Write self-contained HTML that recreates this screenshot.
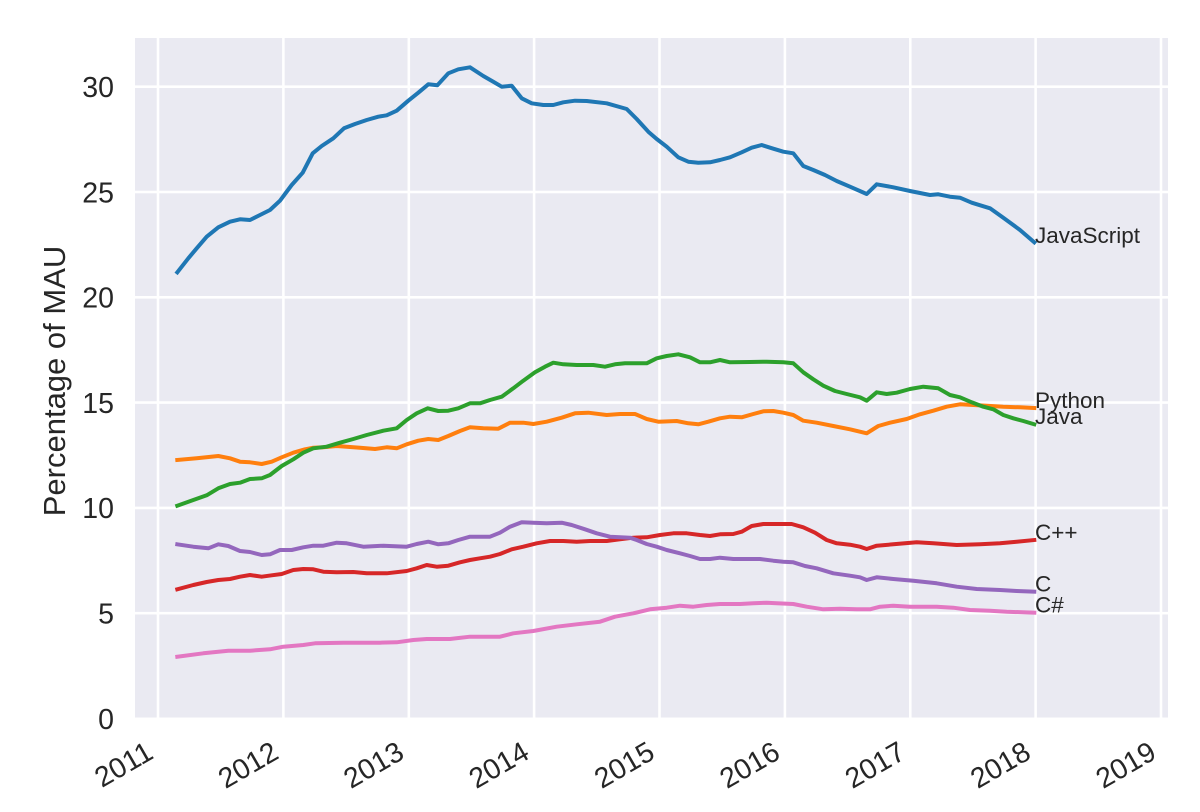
<!DOCTYPE html>
<html><head><meta charset="utf-8"><style>
html,body{margin:0;padding:0;background:#fff;}
svg{display:block;}
text{font-family:"Liberation Sans",Arial,sans-serif;fill:#262626;}
</style></head><body>
<svg width="1200" height="812" viewBox="0 0 1200 812" xmlns="http://www.w3.org/2000/svg">
<defs><clipPath id="c"><rect x="135" y="38" width="1033" height="679.5"/></clipPath></defs>
<rect x="135" y="38" width="1033" height="679.5" fill="#EAEAF2"/>
<g stroke="#fff" stroke-width="2.6" clip-path="url(#c)">
<line x1="158" y1="38" x2="158" y2="718"/>
<line x1="283.4" y1="38" x2="283.4" y2="718"/>
<line x1="408.8" y1="38" x2="408.8" y2="718"/>
<line x1="534.1" y1="38" x2="534.1" y2="718"/>
<line x1="659.5" y1="38" x2="659.5" y2="718"/>
<line x1="784.9" y1="38" x2="784.9" y2="718"/>
<line x1="910.3" y1="38" x2="910.3" y2="718"/>
<line x1="1035.6" y1="38" x2="1035.6" y2="718"/>
<line x1="1161" y1="38" x2="1161" y2="718"/>
<line x1="135" y1="86.7" x2="1168" y2="86.7"/>
<line x1="135" y1="192" x2="1168" y2="192"/>
<line x1="135" y1="297.3" x2="1168" y2="297.3"/>
<line x1="135" y1="402.6" x2="1168" y2="402.6"/>
<line x1="135" y1="507.9" x2="1168" y2="507.9"/>
<line x1="135" y1="613.2" x2="1168" y2="613.2"/>
</g>
<g fill="none" stroke-width="4" stroke-linejoin="round" stroke-linecap="square" clip-path="url(#c)">
<polyline stroke="#1f77b4" points="177.3,272.3 188.3,258.3 196.7,248.3 206.7,236.7 218.3,227.3 230,221.7 240,219.3 250,220 260,215 270,210 280,200.7 291.7,185 302.7,172.7 312.7,153.3 321.7,146 333.3,138.3 344,128.3 355,124 366.7,120 378.3,116.7 386.7,115.3 396.7,110.7 408.3,100.7 418.3,92.7 428.3,84.3 437.3,85.3 448.3,73.3 458.3,69.3 470,67.3 483.3,76 493.3,81.7 501.7,86.7 511.7,85.7 521.7,98.3 531.7,103.3 543.3,105 553.3,105 563.3,102.3 575,100.7 586.7,101 606.7,103.3 626.7,109 636.7,119 648.3,131.7 656.7,139 666.7,146.7 678.3,157.3 688.3,161.7 698.3,162.7 710,162.3 720,160 730,157.3 741.7,152.3 751.7,147.7 761.7,145 773.3,148.7 783.3,151.7 793.3,153.3 803.3,166 813.3,170 825,175 836.7,181 850,186.7 866.7,194 876.7,184.3 893.3,187.3 910,191 930,195 938.3,194.3 950,196.7 960,197.7 971.7,202.7 990,208.3 1003.3,217.7 1020,230 1034.3,242.3"/>
<polyline stroke="#ff7f0e" points="177.3,460 196.7,458.3 218.3,456 230,458.3 240,461.7 250,462.3 261.7,464 271.7,461.7 281.7,457.3 293.3,452.7 305,449.3 313.3,447.7 323.3,447.3 336.7,446 346.7,446.7 360,447.7 375,449 386.7,447.3 396.7,448.3 406.7,444.3 418.3,440.7 428.3,439 438.3,440 448.3,436 460,431 470,427.3 483.3,428.3 498.3,428.7 510,422.7 523.3,422.7 533.3,424 546.7,421.7 561.7,417.7 575,413.3 588.3,412.7 606.7,415 620,414 635,414 646.7,419 658.3,421.7 676.7,421 688.3,423.3 698.3,424.3 708.3,421.7 720,418.3 730,416.7 741.7,417.3 753.3,414 763.3,411.3 773.3,411 783.3,412.7 793.3,415 803.3,420.7 816.7,422.7 833.3,426 850,429.3 866.7,433.3 878.3,426 890,422.7 906.7,419 920,414.3 933.3,410.7 946.7,406.7 960,404.3 973.3,405 986.7,405.7 1003.3,406.7 1020,407.3 1034.3,408"/>
<polyline stroke="#2ca02c" points="177.3,505.7 193.3,500 206.7,495.3 218.3,488.3 230,484 240,482.7 250,479 261.7,478.3 270,475 281.7,466 293.3,459.3 303.3,452.7 313.3,448.3 326.7,446.7 340,442.7 353.3,439 366.7,435 383.3,430.7 396.7,428.3 406.7,420 416.7,413.3 427.7,408.3 438.3,411 448.3,410.7 458.3,408.3 470,403.3 480,403.3 490,400 501.7,396.7 513.3,388.3 523.3,380.7 535,372.3 545,366.7 553.3,362.7 563.3,364.3 576.7,365 593.3,365 605,366.7 615,364.3 625,363.3 646.7,363.3 656.7,358.3 666.7,356 678.3,354.3 690,357.3 700,362.3 710,362.3 720,360 730,362.3 750,362 766.7,361.7 783.3,362.3 793.3,363.3 803.3,372.3 813.3,379.3 823.3,385.7 835,391 846.7,394 860,397.3 866.7,400.7 876.7,392.3 886.7,394 896.7,392.7 910,389 923.3,386.7 938.3,388.3 950,395 960,397.3 971.7,402.3 983.3,406.7 993.3,409.3 1003.3,415 1013.3,418.3 1023.3,421 1034.3,424.3"/>
<polyline stroke="#d62728" points="177.3,589.3 193.3,585 206.7,582 218.3,580 230,579 240,576.7 250,575 261.7,576.7 271.7,575.3 281.7,574 293.3,570 303.3,569 313.3,569.3 323.3,571.7 336.7,572.3 353.3,572 366.7,573.3 386.7,573.3 406.7,571 416.7,568.3 426.7,565 436.7,566.7 448.3,565.7 460,562.3 470,560 480,558.3 490,556.7 500,554 511.7,549.3 523.3,546.7 536.7,543.3 550,541 563.3,541 576.7,541.7 590,541 606.7,541 620,539.3 633.3,537.7 646.7,537.3 660,535 673.3,533.3 686.7,533.3 700,535 710,536 720,534.3 733.3,534 741.7,531.7 751.7,526 763.3,524 776.7,524 791.7,524 803.3,527.3 815,532.7 826.7,540 836.7,543.3 850,544.7 860,546.7 866.7,549 876.7,545.7 893.3,544.3 916.7,542.3 933.3,543.3 956.7,545 980,544.3 1000,543.3 1016.7,541.7 1034.3,540"/>
<polyline stroke="#9467bd" points="177.3,544.3 193.3,546.7 208.3,548.3 218.3,544.3 228.3,546 240,551 250,552 261.7,555 270,554.3 280,550 291.7,550 303.3,547.3 313.3,545.7 323.3,545.7 336.7,542.7 346.7,543.3 363.3,546.7 383.3,545.7 406.7,546.7 416.7,544 428.3,541.7 438.3,544.3 448.3,543.3 458.3,540 470,536.7 490,536.7 500,532.7 510,526.7 521.7,522.3 533.3,522.7 546.7,523.3 561.7,522.7 571.7,525 585,529.3 596.7,533.3 610,536.7 630,537.7 636.7,540 646.7,544 656.7,546.7 666.7,550 680,553.3 690,556 700,559 710,559 720,557.7 733.3,559 746.7,559 760,559 773.3,560.7 783.3,561.7 793.3,562.3 805,566 816.7,568.3 833.3,573.3 850,575.7 860,577.3 866.7,580 876.7,577.3 893.3,579 913.3,580.7 936.7,583.3 956.7,586.7 976.7,589 1000,590 1016.7,591 1034.3,591.7"/>
<polyline stroke="#e377c2" points="177.3,656.7 203.3,653.3 228.3,650.7 250,650.7 270,649.3 283.3,646.7 303.3,645 315,643.3 343.3,642.7 380,642.7 396.7,642.3 413.3,640 426.7,639 450,639 470,636.7 500,636.7 513.3,633.3 533.3,631 556.7,626.7 576.7,624.3 600,621.7 615,616.7 633.3,613.3 650,609.3 666.7,607.7 680,605.7 693.3,606.7 706.7,605 720,604 740,604 753.3,603.3 766.7,602.7 776.7,603.3 793.3,604 806.7,606.7 823.3,609.3 840,608.7 856.7,609.3 870,609.3 880,606.7 893.3,605.7 910,606.7 936.7,606.7 953.3,607.7 970,610 990,610.7 1006.7,611.7 1034.3,612.7"/>
</g>
<g font-size="22.5">
<text x="1035" y="243">JavaScript</text>
<text x="1035" y="408">Python</text>
<text x="1035" y="424">Java</text>
<text x="1035" y="540">C++</text>
<text x="1035" y="591.7">C</text>
<text x="1035" y="612.7">C#</text>
</g>
<g font-size="28.5" text-anchor="end">
<text x="114" y="97">30</text>
<text x="114" y="202.3">25</text>
<text x="114" y="307.6">20</text>
<text x="114" y="412.9">15</text>
<text x="114" y="518.2">10</text>
<text x="114" y="623.5">5</text>
<text x="114" y="728.8">0</text>
</g>
<g font-size="28.5" text-anchor="end">
<text transform="translate(155,757.5) rotate(-30)">2011</text>
<text transform="translate(280.4,757.5) rotate(-30)">2012</text>
<text transform="translate(405.8,757.5) rotate(-30)">2013</text>
<text transform="translate(531.1,757.5) rotate(-30)">2014</text>
<text transform="translate(656.5,757.5) rotate(-30)">2015</text>
<text transform="translate(781.9,757.5) rotate(-30)">2016</text>
<text transform="translate(907.3,757.5) rotate(-30)">2017</text>
<text transform="translate(1032.6,757.5) rotate(-30)">2018</text>
<text transform="translate(1158,757.5) rotate(-30)">2019</text>
</g>
<text font-size="31" text-anchor="middle" transform="translate(65,381) rotate(-90)">Percentage of MAU</text>
</svg>
</body></html>
